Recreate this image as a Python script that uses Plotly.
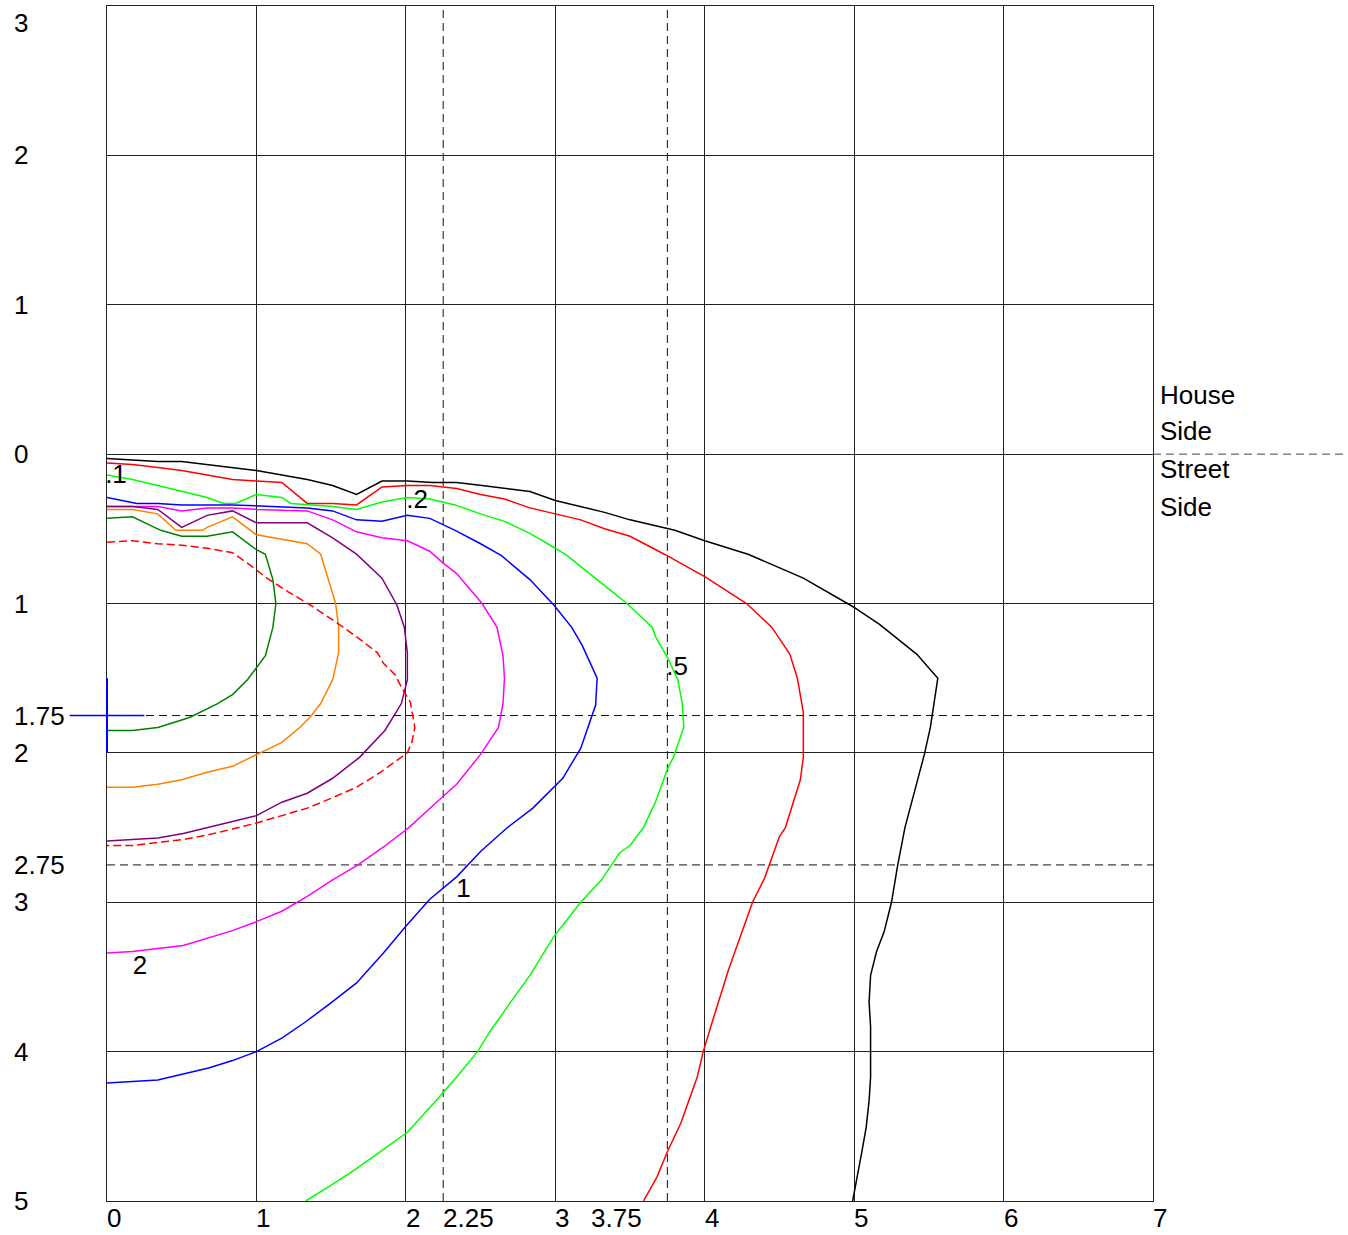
import plotly.graph_objects as go

# ---------------- data ----------------
black_x = [0, 0.17, 0.34, 0.50, 0.67, 0.84, 1.00, 1.17, 1.34, 1.51, 1.67, 1.84, 2.01, 2.18, 2.34, 2.51, 2.66, 2.83, 3.00, 3.17,
           3.33, 3.50, 3.67, 3.80, 4.00, 4.29, 4.66, 4.99, 5.17, 5.42, 5.56, 5.51, 5.47, 5.41, 5.34, 5.29, 5.25, 5.20, 5.15, 5.11,
           5.10, 5.11, 5.11, 5.10, 5.08, 5.05, 5.02, 4.99]
black_y = [0.03, 0.04, 0.05, 0.05, 0.07, 0.09, 0.11, 0.14, 0.17, 0.21, 0.27, 0.18, 0.18, 0.19, 0.19, 0.21, 0.23, 0.25, 0.31, 0.35,
           0.39, 0.44, 0.48, 0.51, 0.58, 0.67, 0.83, 1.02, 1.14, 1.34, 1.50, 1.83, 2.01, 2.23, 2.50, 2.76, 3.00, 3.20, 3.33, 3.49,
           3.67, 3.83, 4.17, 4.33, 4.51, 4.68, 4.84, 5.00]

red_x = [0, 0.17, 0.34, 0.50, 0.67, 0.84, 1.00, 1.17, 1.34, 1.51, 1.67, 1.84, 2.01, 2.16, 2.34, 2.50, 2.66, 2.83, 3.00, 3.17,
         3.33, 3.50, 3.73, 4.00, 4.28, 4.45, 4.57, 4.62, 4.66, 4.66, 4.64, 4.54, 4.50, 4.40, 4.32, 4.24, 4.16, 4.06, 3.99, 3.95,
         3.89, 3.84, 3.75, 3.68, 3.59]
red_y = [0.06, 0.07, 0.09, 0.11, 0.14, 0.17, 0.18, 0.19, 0.33, 0.33, 0.34, 0.22, 0.21, 0.21, 0.23, 0.27, 0.30, 0.36, 0.40, 0.44,
         0.50, 0.55, 0.67, 0.82, 1.00, 1.16, 1.34, 1.50, 1.73, 2.03, 2.18, 2.50, 2.56, 2.84, 3.00, 3.23, 3.45, 3.77, 4.00, 4.17,
         4.34, 4.48, 4.67, 4.84, 5.00]

green_x = [0, 0.17, 0.34, 0.50, 0.67, 0.78, 0.86, 1.00, 1.17, 1.23, 1.51, 1.67, 1.84, 2.01, 2.16, 2.33, 2.50, 2.66, 2.83, 3.00,
           3.08, 3.33, 3.48, 3.65, 3.67, 3.75, 3.82, 3.85, 3.86, 3.79, 3.75, 3.67, 3.59, 3.50, 3.43, 3.31, 3.17, 2.99, 2.83, 2.70,
           2.56, 2.48, 2.34, 2.20, 2.01, 1.83, 1.66, 1.49, 1.33]
green_y = [0.14, 0.17, 0.21, 0.25, 0.29, 0.33, 0.33, 0.27, 0.29, 0.33, 0.35, 0.37, 0.32, 0.29, 0.30, 0.34, 0.40, 0.45, 0.53, 0.63,
           0.68, 0.88, 1.00, 1.16, 1.22, 1.36, 1.51, 1.67, 1.83, 2.03, 2.11, 2.33, 2.50, 2.62, 2.67, 2.85, 3.00, 3.23, 3.49, 3.67,
           3.87, 4.00, 4.17, 4.33, 4.54, 4.67, 4.79, 4.90, 5.00]

blue_x = [0, 0.20, 0.34, 0.50, 0.84, 1.17, 1.34, 1.51, 1.67, 1.84, 2.01, 2.16, 2.33, 2.50, 2.64, 2.83, 2.99, 3.11, 3.18, 3.28,
          3.27, 3.17, 3.05, 2.85, 2.68, 2.50, 2.34, 2.16, 2.00, 1.85, 1.67, 1.49, 1.33, 1.17, 1.00, 0.84, 0.68, 0.51, 0.42, 0.34,
          0.17, 0]
blue_y = [0.29, 0.33, 0.33, 0.34, 0.34, 0.35, 0.36, 0.38, 0.44, 0.45, 0.41, 0.43, 0.51, 0.60, 0.68, 0.84, 1.01, 1.16, 1.28, 1.50,
          1.68, 1.97, 2.17, 2.37, 2.50, 2.66, 2.83, 2.98, 3.16, 3.34, 3.54, 3.68, 3.80, 3.91, 4.00, 4.06, 4.11, 4.15, 4.17, 4.19,
          4.20, 4.21]

magenta_x = [0, 0.34, 0.50, 0.67, 0.84, 1.00, 1.34, 1.51, 1.67, 1.84, 2.01, 2.16, 2.25, 2.34, 2.51, 2.61, 2.65, 2.66, 2.65, 2.62,
             2.50, 2.34, 2.25, 2.02, 1.85, 1.68, 1.51, 1.34, 1.17, 1.00, 0.84, 0.67, 0.51, 0.34, 0.17, 0]
magenta_y = [0.35, 0.35, 0.38, 0.36, 0.36, 0.37, 0.38, 0.44, 0.52, 0.56, 0.58, 0.65, 0.73, 0.80, 1.00, 1.16, 1.35, 1.50, 1.67, 1.83,
             2.01, 2.21, 2.29, 2.50, 2.63, 2.75, 2.85, 2.96, 3.06, 3.13, 3.19, 3.24, 3.29, 3.31, 3.33, 3.34]

purple_x = [0, 0.17, 0.34, 0.50, 0.67, 0.84, 1.00, 1.17, 1.34, 1.51, 1.67, 1.84, 1.94, 1.99, 2.01, 2.01, 1.97, 1.86, 1.69, 1.51,
            1.34, 1.17, 1.00, 0.84, 0.67, 0.51, 0.34, 0]
purple_y = [0.35, 0.35, 0.37, 0.49, 0.41, 0.38, 0.46, 0.46, 0.46, 0.56, 0.67, 0.83, 1.01, 1.16, 1.33, 1.51, 1.67, 1.85, 2.03, 2.17,
            2.27, 2.33, 2.42, 2.46, 2.50, 2.54, 2.57, 2.59]

orange_x = [0, 0.17, 0.34, 0.46, 0.50, 0.64, 0.67, 0.84, 1.00, 1.17, 1.34, 1.43, 1.48, 1.53, 1.55, 1.55, 1.51, 1.43, 1.36, 1.29,
            1.17, 1.00, 0.84, 0.67, 0.50, 0.34, 0.17, 0]
orange_y = [0.37, 0.37, 0.40, 0.51, 0.51, 0.51, 0.49, 0.42, 0.54, 0.57, 0.60, 0.67, 0.83, 1.00, 1.16, 1.33, 1.51, 1.67, 1.76, 1.83,
            1.93, 2.01, 2.09, 2.13, 2.18, 2.21, 2.23, 2.23]

dkgreen_x = [0, 0.17, 0.36, 0.50, 0.67, 0.84, 1.00, 1.06, 1.11, 1.13, 1.11, 1.06, 0.94, 0.84, 0.74, 0.56, 0.50, 0.34, 0.17, 0]
dkgreen_y = [0.43, 0.42, 0.51, 0.55, 0.55, 0.52, 0.64, 0.67, 0.84, 1.00, 1.16, 1.35, 1.51, 1.61, 1.67, 1.76, 1.78, 1.83, 1.85, 1.85]

reddash_x = [0, 0.17, 0.34, 0.50, 0.67, 0.84, 0.94, 1.07, 1.21, 1.36, 1.54, 1.68, 1.81, 1.85, 1.93, 1.97, 2.03, 2.06, 2.04, 2.01,
             1.83, 1.67, 1.51, 1.34, 1.17, 1.00, 0.84, 0.67, 0.51, 0.34, 0.17, 0]
reddash_y = [0.59, 0.58, 0.60, 0.61, 0.63, 0.66, 0.73, 0.83, 0.92, 1.01, 1.13, 1.23, 1.33, 1.40, 1.48, 1.56, 1.66, 1.83, 1.93, 2.00,
             2.13, 2.23, 2.30, 2.37, 2.42, 2.47, 2.51, 2.55, 2.58, 2.60, 2.62, 2.62]

contour_labels = [".1", ".2", ".5", "1", "2"]
label_x = [0.06, 2.075, 3.815, 2.386, 0.22]
label_y = [0.147, 0.32, 1.438, 2.923, 3.44]

x_tick_vals = [0, 1, 2, 2.25, 3, 3.75, 4, 5, 6, 7]
x_tick_text = ["0", "1", "2", "2.25", "3", "3.75", "4", "5", "6", "7"]
y_tick_vals = [-3, -2, -1, 0, 1, 1.75, 2, 2.75, 3, 4, 5]
y_tick_text = ["3", "2", "1", "0", "1", "1.75", "2", "2.75", "3", "4", "5"]

ref_x = [2.25, 3.75]
ref_y = [1.75, 2.75]

pole_x = 0
pole_arm = [-0.25, 0.25]
pole_span = [1.5, 2.0]
pole_y = 1.75

side_labels = ["House", "Side", "Street", "Side"]

# ---------------- figure ----------------
XMIN, XMAX = 0, 7
YMIN, YMAX = -3, 5
FONT = "Liberation Sans, Arial, sans-serif"
FS = 26


def xp(v):
    return (v - XMIN) / (XMAX - XMIN)


def yp(v):
    return (YMAX - v) / (YMAX - YMIN)


fig = go.Figure()

series = [
    (black_x, black_y, "black", "solid"),
    (red_x, red_y, "#ff0000", "solid"),
    (green_x, green_y, "#00ff00", "solid"),
    (blue_x, blue_y, "#0000ff", "solid"),
    (magenta_x, magenta_y, "#ff00ff", "solid"),
    (purple_x, purple_y, "#800080", "solid"),
    (orange_x, orange_y, "#ff8000", "solid"),
    (dkgreen_x, dkgreen_y, "#008000", "solid"),
    (reddash_x, reddash_y, "#ff0000", "8px,4px"),
]
for sx, sy, col, dash in series:
    fig.add_trace(go.Scatter(x=sx, y=sy, mode="lines",
                             line=dict(color=col, width=1.5, dash=dash),
                             hoverinfo="skip", showlegend=False))

fig.add_trace(go.Scatter(x=label_x, y=label_y, mode="text", text=contour_labels,
                         textfont=dict(family=FONT, size=FS, color="black"),
                         cliponaxis=False, hoverinfo="skip", showlegend=False))

shapes = []
for v in ref_x:
    shapes.append(dict(type="line", xref="x", yref="paper", x0=v, x1=v, y0=0, y1=1,
                       line=dict(color="#111", width=1, dash="8px,5px"), layer="between"))
for v in ref_y:
    shapes.append(dict(type="line", xref="paper", yref="y", x0=0, x1=1, y0=v, y1=v,
                       line=dict(color="#111", width=1, dash="8px,5px"), layer="between"))
# house/street divider extension
shapes.append(dict(type="line", xref="paper", yref="paper", x0=1, x1=(1345 - 107) / 1046,
                   y0=yp(0), y1=yp(0), line=dict(color="#444", width=1, dash="8px,5px")))
# luminaire cross
shapes.append(dict(type="line", xref="paper", yref="paper", x0=xp(pole_x), x1=xp(pole_x),
                   y0=yp(pole_span[0]), y1=yp(pole_span[1]), line=dict(color="#0000ff", width=2)))
shapes.append(dict(type="line", xref="paper", yref="paper", x0=xp(pole_arm[0]), x1=xp(pole_arm[1]),
                   y0=yp(pole_y), y1=yp(pole_y), line=dict(color="#0000ff", width=1.5)))

annotations = []
for v, t in zip(x_tick_vals, x_tick_text):
    if v == 3.75:
        anchor, shift = "right", -23
    else:
        anchor, shift = "left", -2
    annotations.append(dict(x=v, y=0, xref="x", yref="paper", text=t, showarrow=False,
                            xanchor=anchor, xshift=shift, yanchor="top",
                            font=dict(family=FONT, size=FS, color="black")))
for v, t in zip(y_tick_vals, y_tick_text):
    annotations.append(dict(x=(12 - 107) / 1046, y=v, xref="paper", yref="y", text=t, showarrow=False,
                            xanchor="left", yanchor="top" if v == YMIN else "middle",
                            font=dict(family=FONT, size=FS, color="black")))
for t, sh in zip(side_labels, [59, 23, -15, -53]):
    annotations.append(dict(x=1, y=0, xref="paper", yref="y", text=t, showarrow=False,
                            xanchor="left", yanchor="middle", xshift=5, yshift=sh,
                            font=dict(family=FONT, size=FS, color="black")))

axis_common = dict(showgrid=True, gridcolor="#222", gridwidth=1, zeroline=False,
                   showticklabels=False, ticks="", showline=True, linecolor="#222",
                   linewidth=1, mirror=True, dtick=1, tick0=0)

fig.update_layout(
    width=1348, height=1235,
    margin=dict(l=107, r=195, t=6, b=34),
    paper_bgcolor="white", plot_bgcolor="white",
    xaxis=dict(range=[XMIN, XMAX], **axis_common),
    yaxis=dict(range=[YMAX, YMIN], **axis_common),
    shapes=shapes, annotations=annotations,
    showlegend=False,
)

fig.write_html("out.html")
